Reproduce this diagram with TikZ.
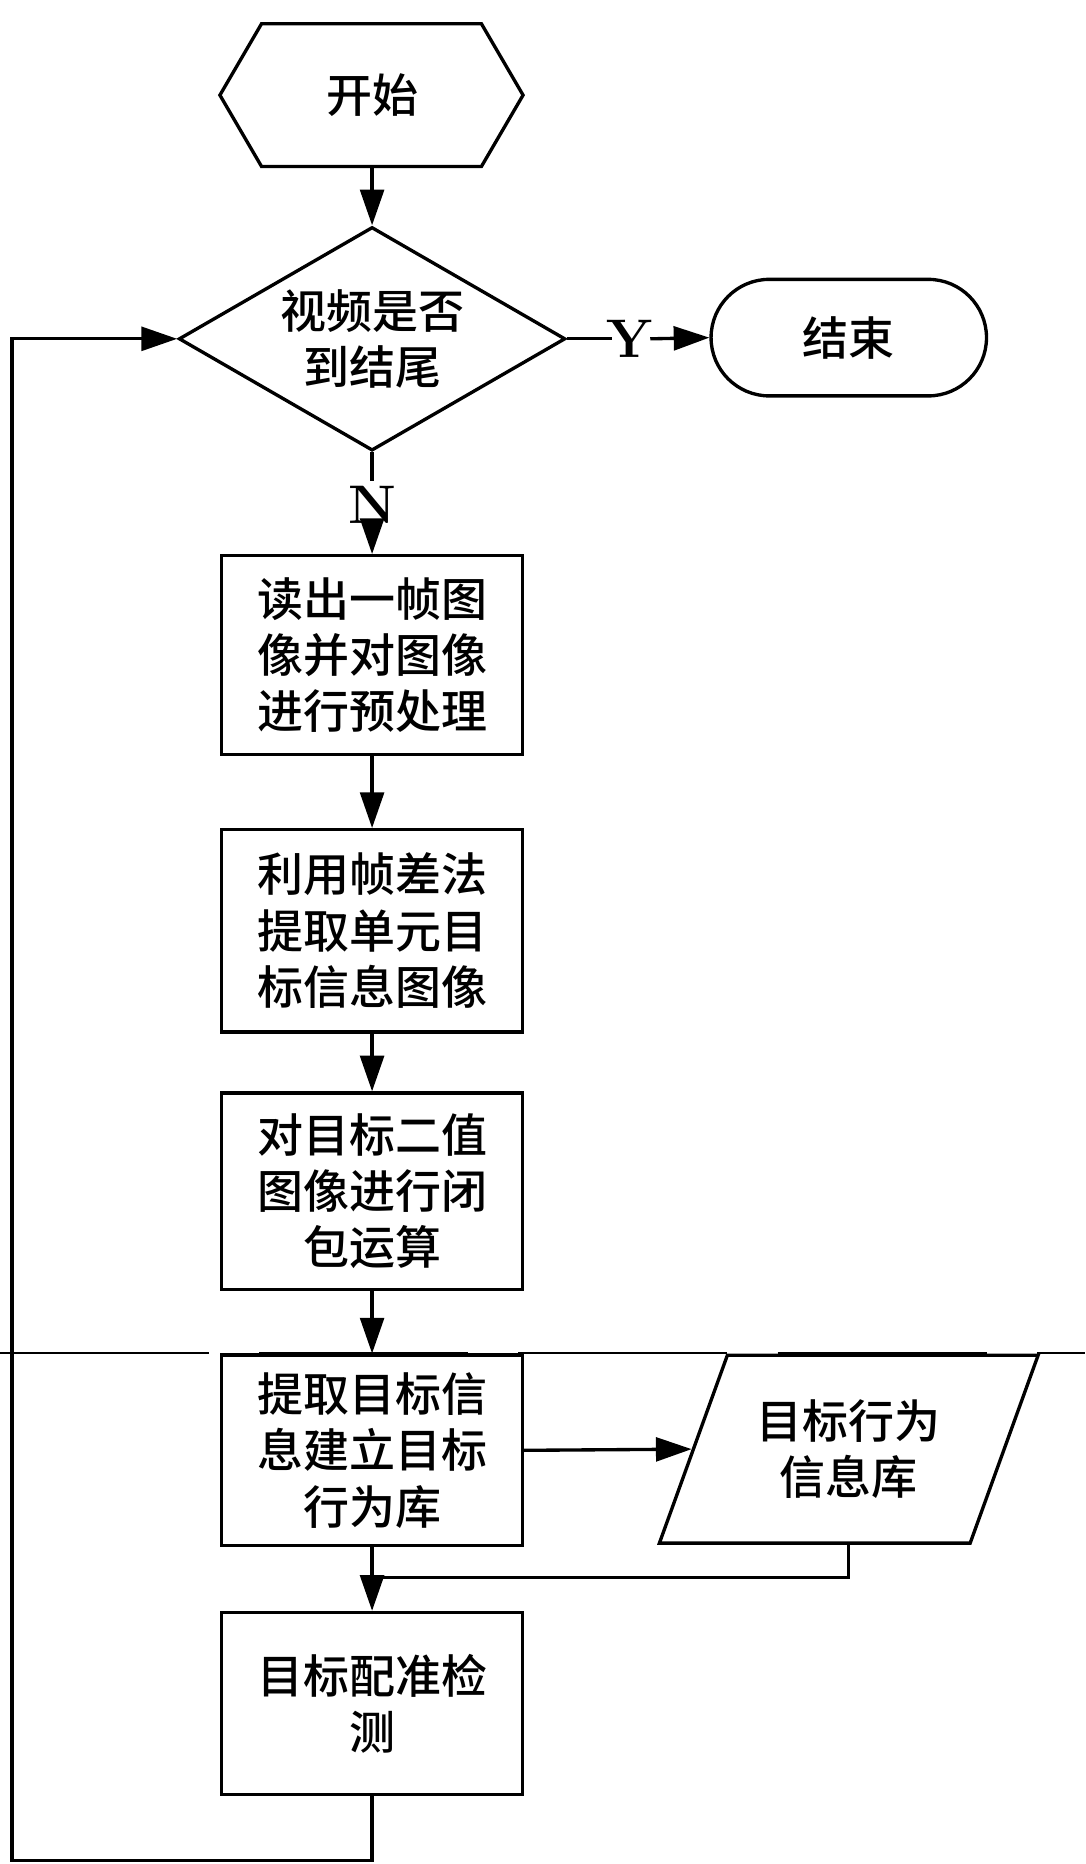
\documentclass[tikz,border=0pt]{standalone}
\usepackage{fontspec}
\newfontfamily\cjk{Noto Sans CJK SC Medium}[BoldFont={Noto Sans CJK SC Bold}]
\usetikzlibrary{shapes.geometric,shapes.misc,arrows.meta,positioning}

\begin{document}
\begin{tikzpicture}[x=0.01cm,y=-0.01cm,
    font=\cjk\fontsize{11}{13.5}\selectfont,
    box/.style={rectangle, draw, thick, minimum width=2.53cm, align=center},
    decide/.style={diamond, draw, thick, aspect=1.73, minimum width=3.25cm, minimum height=1.88cm, inner sep=0pt, align=center},
    stop/.style={rounded rectangle, draw, thick, minimum width=2.52cm, minimum height=0.98cm},
    store/.style={trapezium, trapezium left angle=65, trapezium right angle=115, draw, thick, minimum width=3.2cm, minimum height=1.58cm, align=center, trapezium stretches=true},
    arrow/.style={-{Triangle[length=0.3cm,width=0.2cm]}, thick},
    line/.style={thick},
    yn/.style={font=\bfseries\fontsize{13}{15}\selectfont},
]
    \useasboundingbox (0,0) rectangle (913,1568);

    % start
    \draw[thick] (185,80) -- (220,20) -- (405,20) -- (440,80) -- (405,140) -- (220,140) -- cycle;
    \node (start) at (313,80) {开始};
    \coordinate (sb) at (313,140);

    % decision and end
    \node[decide] (dec) at (313,285) {视频是否\\到结尾};
    \node[stop, minimum width=2.55cm] (end) at (714,284) {结束};

    % process boxes
    \node[box, minimum height=1.67cm] (read) at (313,551) {读出一帧图\\像并对图像\\进行预处理};
    \node[box, minimum height=1.70cm] (diff) at (313,783) {利用帧差法\\提取单元目\\标信息图像};
    \node[box, minimum height=1.65cm] (close) at (313,1002) {对目标二值\\图像进行闭\\包运算};
    \node[box, minimum height=1.60cm] (build) at (313,1220) {提取目标信\\息建立目标\\行为库};
    \node[box, minimum height=1.53cm] (match) at (313,1433) {目标配准检\\测};
    \node[store] (db) at (714,1219) {目标行为\\信息库};

    % dashed cut line
    \draw[thin, dash pattern=on 50pt off 12pt] (0,1138) -- (913,1138);

    % arrows
    \draw[arrow] (sb) -- (dec.north);
    \draw[line] (dec.east) -- (515,285);
    \node[yn] at (530,285) {Y};
    \draw[arrow] (547,285) -- (end.west);
    \draw[line] (dec.south) -- (313,405);
    \node[yn] at (313,425) {N};
    \draw[arrow] (313,445) -- (read.north);
    \draw[arrow] (read) -- (diff);
    \draw[arrow] (diff) -- (close);
    \draw[arrow] (close) -- (build);
    \draw[arrow] (build) -- (match);
    \draw[arrow] (build.east) -- (db.west);
    \draw[line] (db.south) |- (313,1327);
    \draw[arrow] (match.south) -- (313,1565) -| (10,285) -- (dec.west);
\end{tikzpicture}
\end{document}
